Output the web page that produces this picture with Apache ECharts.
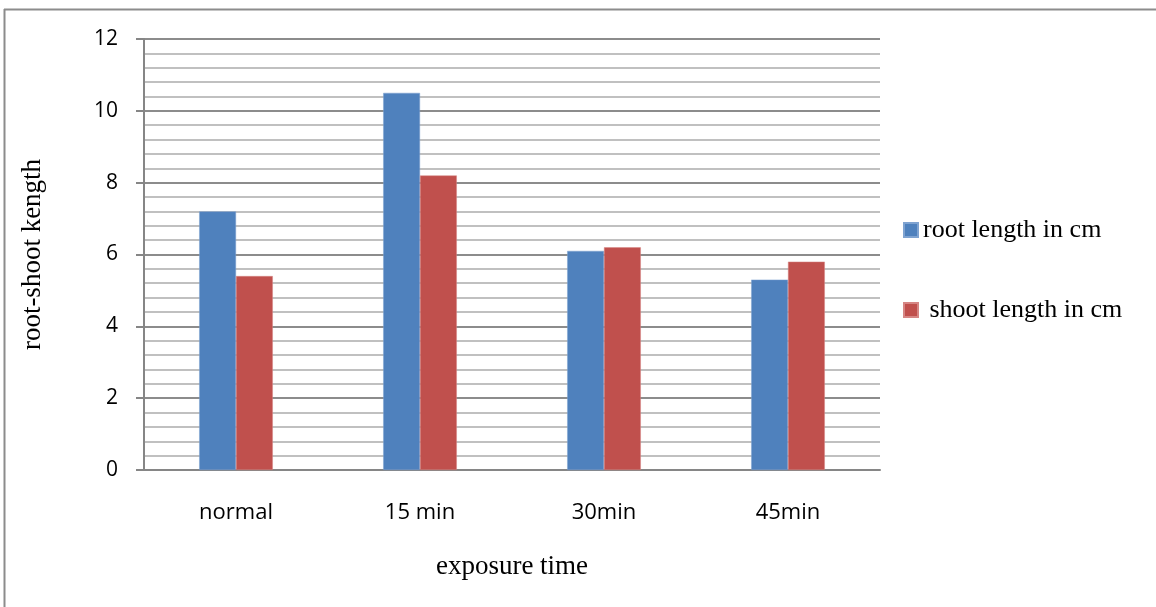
<!DOCTYPE html>
<html><head><meta charset="utf-8">
<script src="https://cdn.jsdelivr.net/npm/echarts@6/dist/echarts.min.js"></script>
<style>html,body{margin:0;padding:0;background:#fff}#c{width:1156px;height:607px}</style>
</head><body><div id="c"></div>
<script>
const categories = ['normal', '15 min', '30min', '45min'];
const rootLength = [7.2, 10.5, 6.1, 5.3];
const shootLength = [5.4, 8.2, 6.2, 5.8];
const seriesNames = ['root length in cm', ' shoot length in cm'];
const chart = echarts.init(document.getElementById('c'));
const legendText = {fontFamily: 'Liberation Serif', fontSize: 26, color: '#000'};
chart.setOption({
  animation: false,
  backgroundColor: '#fff',
  grid: {left: 144, right: 276, top: 39, bottom: 137},
  legend: [
    {left: 898, top: 212, itemWidth: 14, itemHeight: 14, icon: 'rect', textStyle: legendText, data: [seriesNames[0]]},
    {left: 898, top: 292, itemWidth: 14, itemHeight: 14, icon: 'rect', textStyle: legendText, data: [seriesNames[1]]}
  ],
  xAxis: {
    type: 'category', data: categories,
    name: 'exposure time', nameLocation: 'middle', nameGap: 83,
    nameTextStyle: {fontFamily: 'Liberation Serif', fontSize: 27, color: '#000'},
    axisLine: {lineStyle: {color: '#868686', width: 2}},
    axisTick: {show: false},
    axisLabel: {fontFamily: 'Open Sans', fontSize: 22, color: '#000', margin: 32}
  },
  yAxis: {
    type: 'value', min: 0, max: 12, interval: 2,
    name: 'root-shoot kength', nameLocation: 'middle', nameGap: 98,
    nameTextStyle: {fontFamily: 'Liberation Serif', fontSize: 27, color: '#000'},
    axisLine: {show: true, lineStyle: {color: '#868686', width: 2}},
    axisTick: {show: true, length: 8, lineStyle: {color: '#868686', width: 2}},
    axisLabel: {fontFamily: 'Open Sans', fontSize: 21, color: '#000', margin: 26},
    splitLine: {lineStyle: {color: '#8c8c8c', width: 2}},
    minorTick: {show: false, splitNumber: 5},
    minorSplitLine: {show: true, lineStyle: {color: '#c0c0c0', width: 2}}
  },
  series: [
    {name: seriesNames[0], type: 'bar', data: rootLength, barGap: '0%', barCategoryGap: '60%',
     itemStyle: {color: '#4f81bd', borderColor: '#7fa3d1', borderWidth: 0.5}},
    {name: seriesNames[1], type: 'bar', data: shootLength,
     itemStyle: {color: '#c0504d', borderColor: '#d68684', borderWidth: 0.5}}
  ],
  graphic: [
    {type: 'line', shape: {x1: 4, y1: 9.5, x2: 1156, y2: 9.5}, style: {stroke: '#8c8c8c', lineWidth: 2}},
    {type: 'line', shape: {x1: 4.5, y1: 9, x2: 4.5, y2: 607}, style: {stroke: '#8c8c8c', lineWidth: 2}}
  ]
});
</script></body></html>
